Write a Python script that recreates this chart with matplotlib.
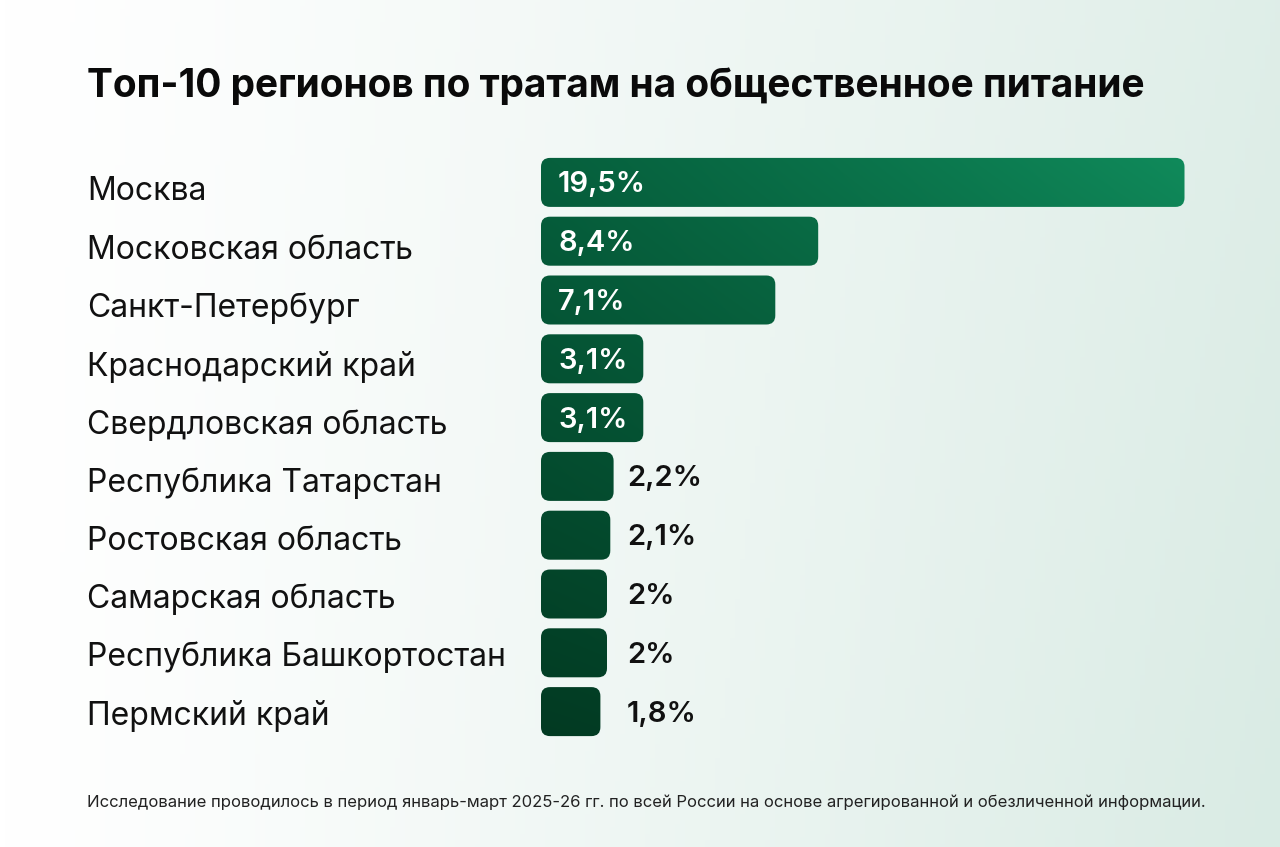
import numpy as np
import matplotlib
matplotlib.use("Agg")
import matplotlib.pyplot as plt
from matplotlib.patches import FancyBboxPatch
from matplotlib.colors import to_rgb

regions = ["Москва", "Московская область", "Санкт-Петербург", "Краснодарский край",
           "Свердловская область", "Республика Татарстан", "Ростовская область",
           "Самарская область", "Республика Башкортостан", "Пермский край"]
shares = [19.5, 8.4, 7.1, 3.1, 3.1, 2.2, 2.1, 2.0, 2.0, 1.8]
value_labels = ["19,5%", "8,4%", "7,1%", "3,1%", "3,1%", "2,2%", "2,1%", "2%", "2%", "1,8%"]
title = "Топ-10 регионов по тратам на общественное питание"
footnote = ("Исследование проводилось в период январь-март 2025-26 гг. по всей России "
            "на основе агрегированной и обезличенной информации.")

W, H = 1280, 847
DPI = 100
FONT = ["Inter", "DejaVu Sans"]
plt.rcParams["font.family"] = FONT

fig = plt.figure(figsize=(W / DPI, H / DPI), dpi=DPI)
renderer = fig.canvas.get_renderer()


def fit_text(txt, target_px):
    """Scale a text's font size so its rendered width matches target_px."""
    for _ in range(3):
        w = txt.get_window_extent(renderer=renderer).width
        txt.set_fontsize(txt.get_fontsize() * target_px / w)
    return txt.get_fontsize()


# background gradient
bg = fig.add_axes([0, 0, 1, 1], zorder=-10)
gx, gy = np.meshgrid(np.linspace(0, 1, 256), np.linspace(0, 1, 256))
c_white = np.array(to_rgb("#ffffff"))
c_green = np.array(to_rgb("#d9ebe4"))
t = np.clip(0.85 * gx ** 1.2 + 0.15 * gy * gx, 0, 1)[..., None]
bg.imshow(c_white * (1 - t) + c_green * t, extent=[0, 1, 0, 1], origin="upper", aspect="auto")
bg.axis("off")

# main axes: x=0 at 541px, 33px per percent; rows 58.8px apart from 153px
px_per_unit = 33.0
row_px = 58.8
xmax = 20
n = len(regions)
top_px = 153
ax = fig.add_axes([541 / W, 1 - (top_px + n * row_px) / H,
                   xmax * px_per_unit / W, n * row_px / H])
ax.set_xlim(0, xmax)
ax.set_ylim(n - 0.5, -0.5)
ax.axis("off")
ax.patch.set_alpha(0)

bar_h = 49 / row_px
r_x = 9 / px_per_unit
aspect = px_per_unit / row_px
val_dy = 2.5 / row_px

# gradient image for bars
ix, iy = np.meshgrid(np.linspace(0, 1, 400), np.linspace(0, 1, 200))
top_left = np.array(to_rgb("#06603d"))
bot_left = np.array(to_rgb("#023a22"))
right_top = np.array(to_rgb("#108c5c"))
left_col = top_left * (1 - iy[..., None]) + bot_left * iy[..., None]
grad = left_col + (right_top - top_left) * (ix[..., None] ** 1.1) * (1 - 0.6 * iy[..., None])
grad = np.clip(grad, 0, 1)

# value label sizes
probe_in = fig.text(0, 0, "19,5%", fontweight="semibold", fontsize=20)
fs_in = fit_text(probe_in, 88)
probe_in.remove()
probe_out = fig.text(0, 0, "2,2%", fontweight="semibold", fontsize=20)
fs_out = fit_text(probe_out, 75)
probe_out.remove()

for i, (v, lab) in enumerate(zip(shares, value_labels)):
    patch = FancyBboxPatch((0, i - bar_h / 2), v, bar_h,
                           boxstyle=f"round,pad=0,rounding_size={r_x}",
                           mutation_aspect=aspect, linewidth=0,
                           facecolor="none", edgecolor="none")
    ax.add_patch(patch)
    im = ax.imshow(grad, extent=[0, xmax, n - 0.5, -0.5], aspect="auto",
                   interpolation="bilinear", zorder=1)
    im.set_clip_path(patch)
    if v >= 3:
        ax.text(17 / px_per_unit, i + val_dy, lab, color="white", fontsize=fs_in,
                fontweight="semibold", ha="left", va="center", zorder=3)
    else:
        ax.text((627 - 541) / px_per_unit, i + val_dy, lab, color="#111111", fontsize=fs_out,
                fontweight="semibold", ha="left", va="center", zorder=3)

ax.set_xlim(0, xmax)
ax.set_ylim(n - 0.5, -0.5)

# region labels
probe = fig.text(0, 0, "Республика Башкортостан", fontsize=22)
fs_lab = fit_text(probe, 419)
probe.remove()
for i, name in enumerate(regions):
    y_px = 192 + i * 58.2
    fig.text(87 / W, 1 - y_px / H, name, fontsize=fs_lab, color="#111111",
             ha="left", va="center")

tt = fig.text(87 / W, 1 - 86 / H, title, fontsize=27, fontweight="bold", color="#0a0a0a",
              ha="left", va="center")
fit_text(tt, 1058)
ft = fig.text(87 / W, 1 - 802 / H, footnote, fontsize=11.5, color="#222222",
              ha="left", va="center")
fit_text(ft, 1118)

fig.savefig("out.png", dpi=DPI)
